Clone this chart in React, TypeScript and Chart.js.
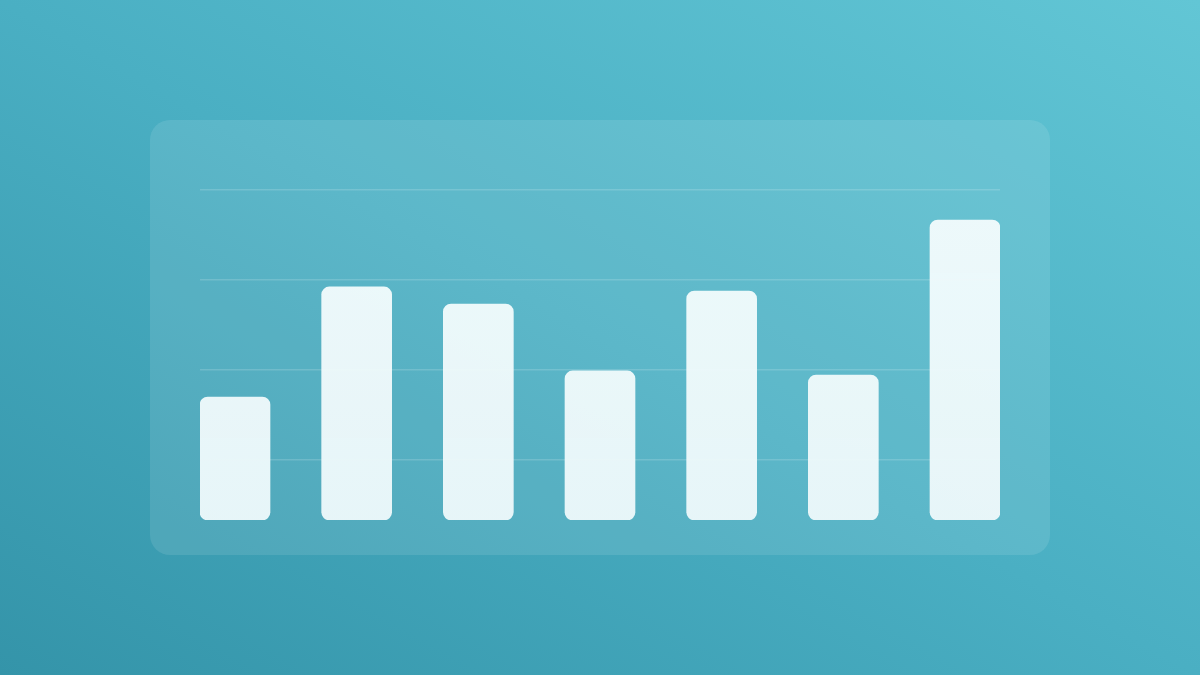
import React, { useEffect, useRef } from "react";
import { Chart, registerables } from "chart.js";

Chart.register(...registerables);

const categories = ["A", "B", "C", "D", "E", "F", "G"];
const values = [41, 77.7, 72, 49.7, 76.3, 48.3, 100];
const gridTicks = [20, 50, 80, 110];
const yMax = 110;

export default function App() {
  const ref = useRef<HTMLCanvasElement | null>(null);

  useEffect(() => {
    document.body.style.margin = "0";
    const canvas = ref.current;
    if (!canvas) return;
    const chart = new Chart(canvas, {
      type: "bar",
      data: {
        datasets: [
          {
            data: values.map((v, i) => ({ x: i, y: v })),
            backgroundColor: (ctx: any) => {
              const c = ctx.chart;
              const area = c.chartArea;
              if (!area) return "#eef8fa";
              const g = c.ctx.createLinearGradient(0, area.top, 0, area.bottom);
              g.addColorStop(0, "rgba(242,251,252,0.97)");
              g.addColorStop(1, "rgba(237,248,250,0.96)");
              return g;
            },
            borderWidth: 0,
            borderRadius: 8,
            borderSkipped: false,
            barThickness: 70,
          },
        ],
      },
      options: {
        responsive: false,
        animation: false,
        events: [],
        layout: { padding: { left: 200, right: 200, top: 190, bottom: 155 } },
        plugins: { legend: { display: false }, tooltip: { enabled: false } },
        scales: {
          x: {
            type: "linear",
            offset: false,
            min: -0.2877,
            max: categories.length - 1 + 0.2877,
            display: true,
            grid: { display: false, drawTicks: false, offset: false },
            border: { display: false },
            ticks: { display: false },
          },
          y: {
            min: 0,
            max: yMax,
            grid: {
              color: "rgba(255,255,255,0.16)",
              lineWidth: 1.5,
              drawTicks: false,
            },
            border: { display: false },
            ticks: { display: false },
            afterBuildTicks: (axis: any) => {
              axis.ticks = gridTicks.map((v) => ({ value: v }));
            },
          },
        },
      },
    });
    return () => chart.destroy();
  }, []);

  return (
    <div
      style={{
        position: "fixed",
        left: 0,
        top: 0,
        width: 1200,
        height: 675,
        overflow: "hidden",
        background: "linear-gradient(to top right, #3494a9 0%, #4aafc3 50%, #62c6d5 100%)",
      }}
    >
      <div
        style={{
          position: "absolute",
          left: 150,
          top: 120,
          width: 900,
          height: 435,
          borderRadius: 20,
          background: "rgba(255,255,255,0.1)",
        }}
      />
      <canvas
        ref={ref}
        width={1200}
        height={675}
        style={{ position: "absolute", left: 0, top: 0, width: 1200, height: 675 }}
      />
    </div>
  );
}
